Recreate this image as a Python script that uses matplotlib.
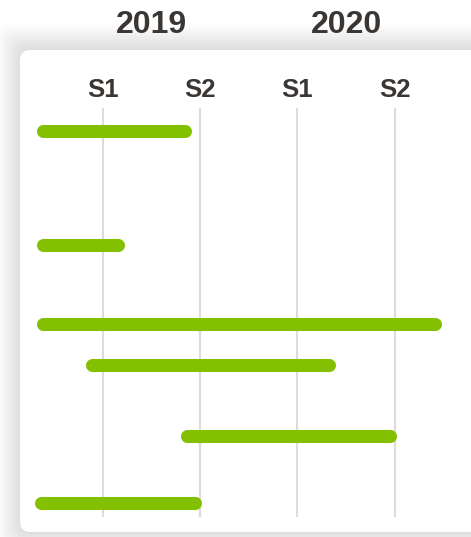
import matplotlib.pyplot as plt
from matplotlib.patches import FancyBboxPatch

plt.rcParams['font.family'] = ['Liberation Sans', 'DejaVu Sans']

# half-year columns and their labels
half_pos = [1, 2, 3, 4]
half_labels = ['S1', 'S2', 'S1', 'S2']
years = ['2019', '2020']
year_pos = [1.5, 3.5]

# task bars: start / end in half-year units, row position top to bottom
bar_start = [0.38, 0.38, 0.38, 0.89, 1.86, 0.36]
bar_end = [1.84, 1.15, 4.42, 3.33, 3.95, 1.95]
bar_row = [0.57, 3.42, 5.40, 6.43, 8.19, 9.87]

W, H = 471, 537
fig = plt.figure(figsize=(W / 100, H / 100), dpi=100)
fig.patch.set_facecolor('white')


def px_box(x0, y0, x1, y1):
    # pixel box (top-left origin) -> figure fraction [l, b, w, h]
    return [x0 / W, 1 - y1 / H, (x1 - x0) / W, (y1 - y0) / H]


# soft shadow around the card
for i in range(16, 0, -1):
    l, b, w, h = px_box(20 - i * 1.4, 50 - i * 1.6, 520 + i, 532 + i)
    sh = FancyBboxPatch((l, b), w, h, boxstyle='round,pad=0,rounding_size=0.025',
                        transform=fig.transFigure, facecolor='#000000',
                        edgecolor='none', alpha=0.008, zorder=0)
    fig.add_artist(sh)

l, b, w, h = px_box(20, 50, 520, 532)
card = FancyBboxPatch((l, b), w, h, boxstyle='round,pad=0,rounding_size=0.022',
                      transform=fig.transFigure, facecolor='white',
                      edgecolor='none', zorder=1, mutation_aspect=W / H)
fig.add_artist(card)

ax = fig.add_axes(px_box(20, 108, 471, 517))
ax.set_facecolor('none')
ax.set_zorder(2)
ax.set_xlim(0.146, 4.786)
ax.set_ylim(10.225, 0)

for x in half_pos:
    ax.axvline(x, color='#dedbd8', lw=1.5, zorder=1)

for s, e, r in zip(bar_start, bar_end, bar_row):
    ax.plot([s, e], [r, r], color='#82c000', lw=9.4, solid_capstyle='round', zorder=3)

for side in ax.spines.values():
    side.set_visible(False)
ax.set_yticks([])
ax.xaxis.tick_top()
ax.set_xticks(half_pos, half_labels)
ax.tick_params(axis='x', length=0, pad=4, labelsize=18.5, labelcolor='#3a3634')
for t in ax.get_xticklabels():
    t.set_fontweight('bold')

top = ax.secondary_xaxis('top')
top.set_xticks(year_pos, years)
top.tick_params(axis='x', length=0, pad=49, labelsize=23, labelcolor='#3a3634')
top.spines['top'].set_visible(False)
for t in top.get_xticklabels():
    t.set_fontweight('bold')

fig.savefig('out.png', dpi=100)
